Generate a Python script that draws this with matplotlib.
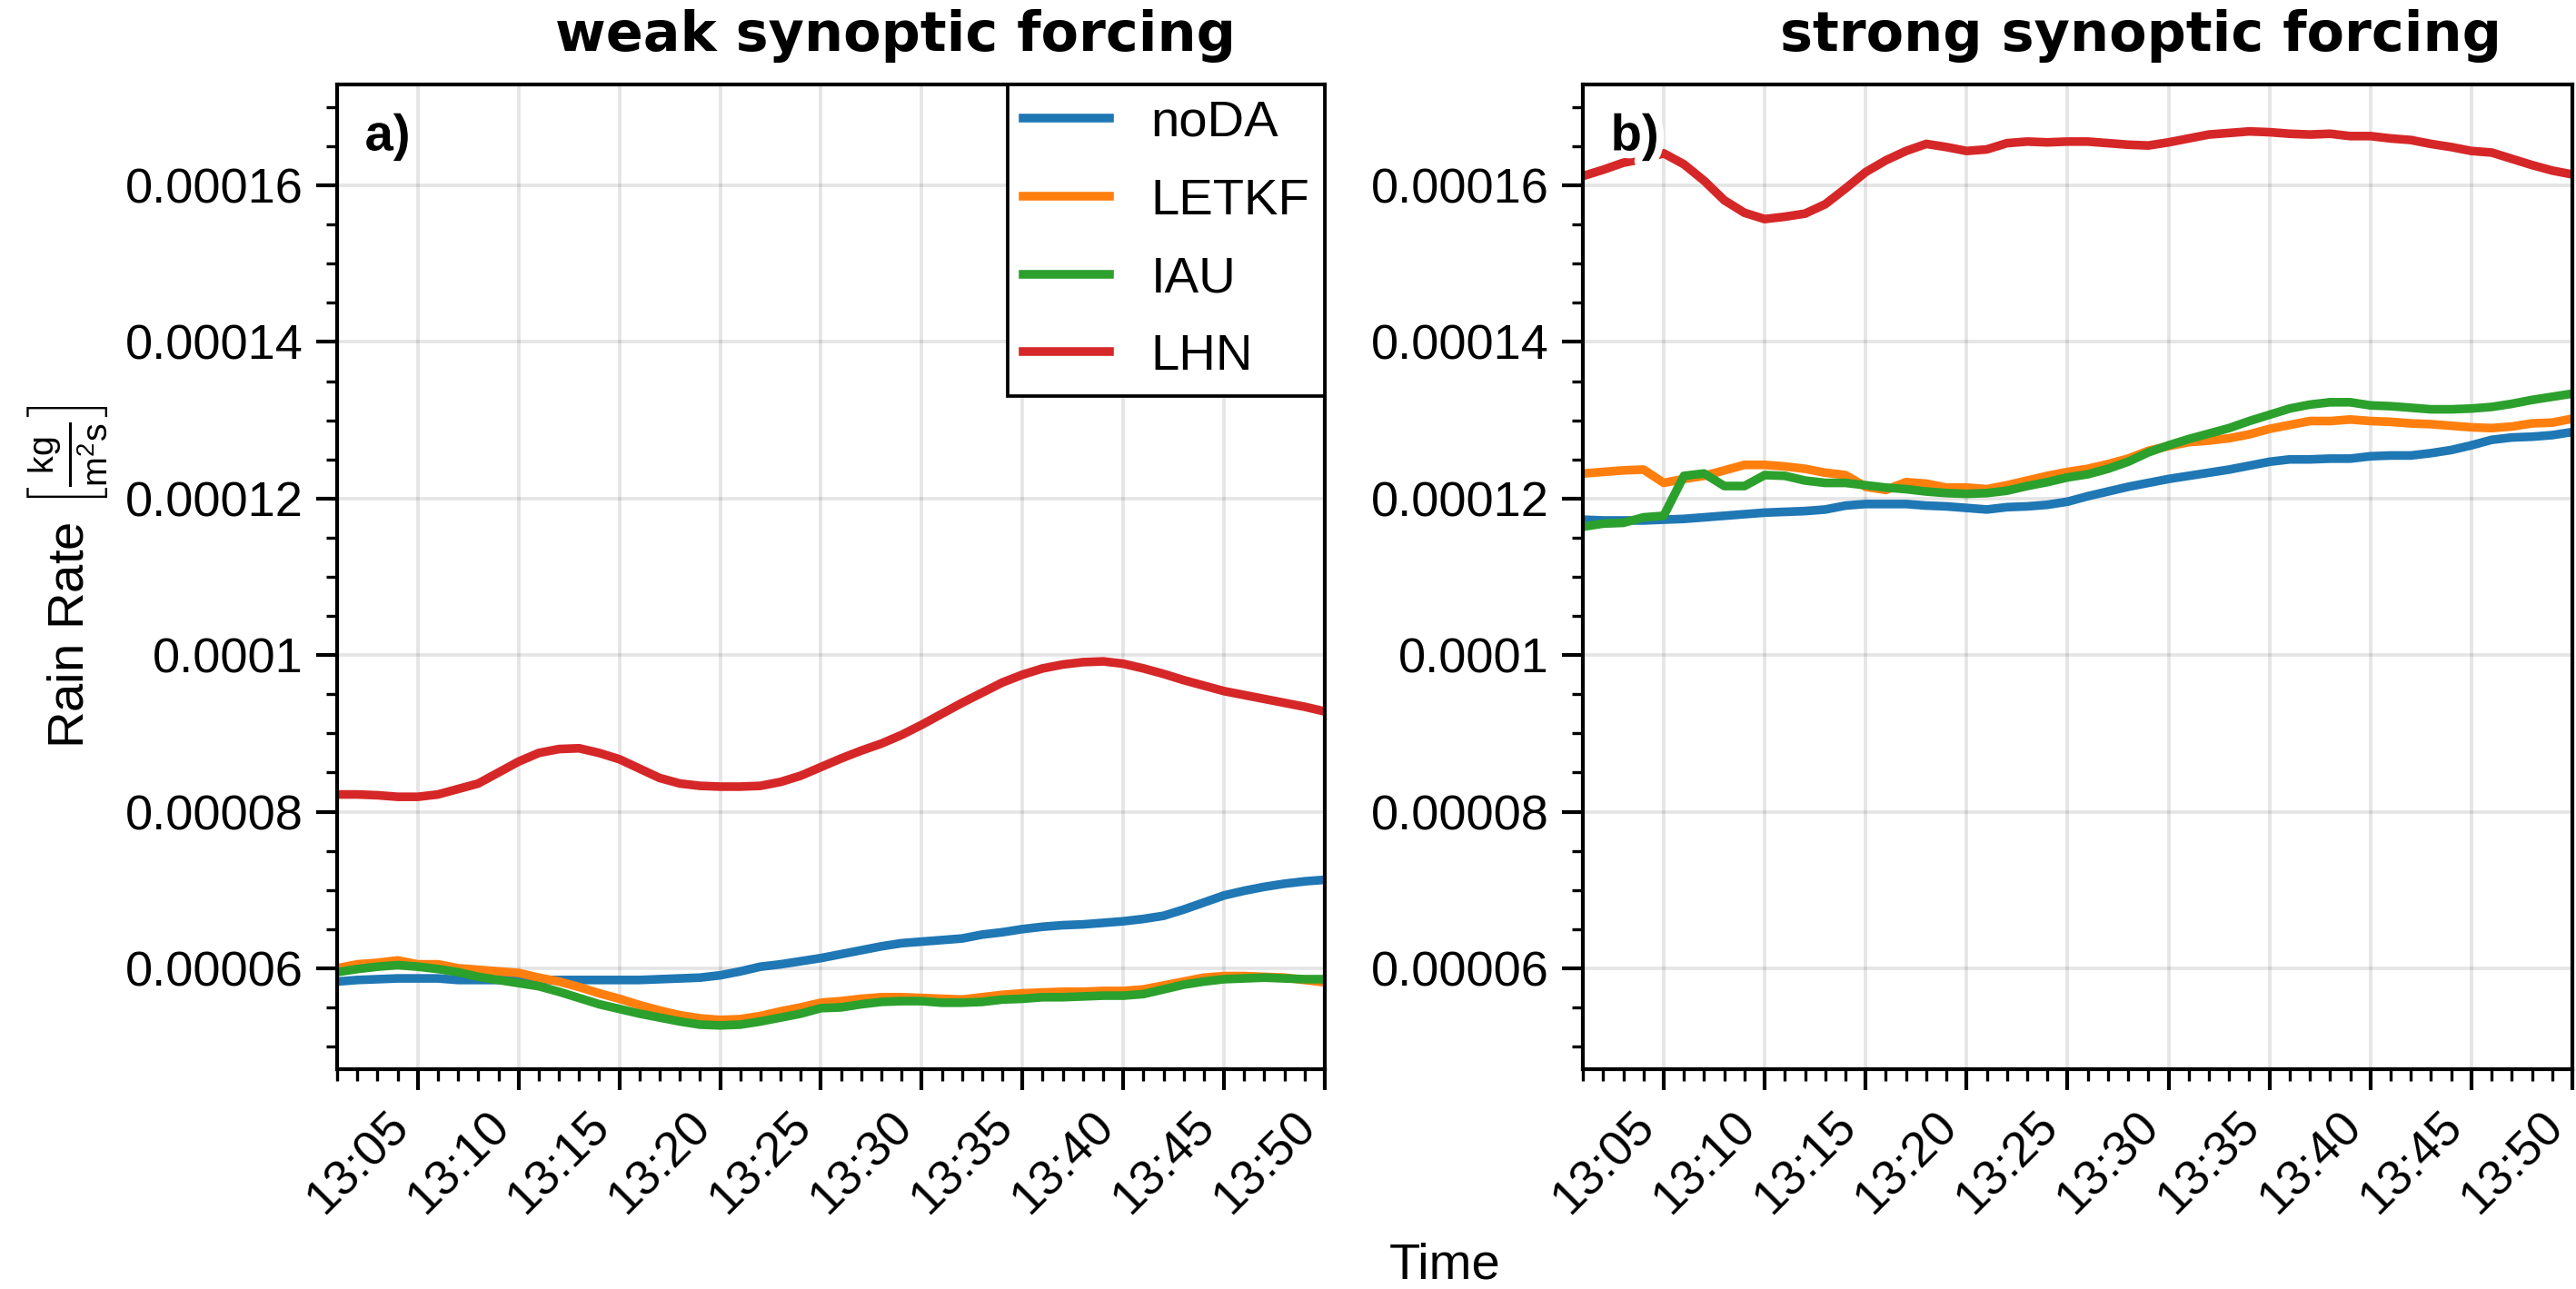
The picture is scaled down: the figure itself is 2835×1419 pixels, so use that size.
import matplotlib
matplotlib.use('Agg')
import matplotlib.pyplot as plt
import matplotlib.dates as mdates
import matplotlib.patheffects as pe
from matplotlib.ticker import MultipleLocator, FuncFormatter
import pandas as pd

# rain rate, in units of 1e-5 kg m-2 s-1, one value per minute from 13:01 to 13:50
unit = 1e-5
times = pd.date_range('2021-07-01 13:01', periods=50, freq='1min')
experiments = ['noDA', 'LETKF', 'IAU', 'LHN']
colors = ['#1f77b4', '#ff7f0e', '#2ca02c', '#d62728']

weak_noda = [5.83, 5.85, 5.86, 5.87, 5.87, 5.87, 5.85, 5.85, 5.85, 5.85,
             5.85, 5.85, 5.85, 5.85, 5.85, 5.85, 5.86, 5.87, 5.88, 5.91,
             5.96, 6.02, 6.05, 6.09, 6.13, 6.18, 6.23, 6.28, 6.32, 6.34,
             6.36, 6.38, 6.43, 6.46, 6.50, 6.53, 6.55, 6.56, 6.58, 6.60,
             6.63, 6.67, 6.75, 6.84, 6.93, 6.99, 7.04, 7.08, 7.11, 7.13]
weak_letkf = [6.00, 6.05, 6.07, 6.10, 6.05, 6.05, 6.00, 5.98, 5.96, 5.94,
              5.88, 5.83, 5.76, 5.68, 5.61, 5.53, 5.46, 5.40, 5.36, 5.34,
              5.35, 5.39, 5.45, 5.50, 5.56, 5.58, 5.61, 5.63, 5.63, 5.62,
              5.61, 5.60, 5.63, 5.66, 5.68, 5.69, 5.70, 5.70, 5.71, 5.71,
              5.73, 5.78, 5.83, 5.88, 5.90, 5.90, 5.89, 5.88, 5.85, 5.82]
weak_iau = [5.95, 5.99, 6.02, 6.04, 6.02, 5.99, 5.95, 5.89, 5.85, 5.81,
            5.77, 5.70, 5.62, 5.54, 5.48, 5.42, 5.37, 5.32, 5.28, 5.27,
            5.28, 5.32, 5.37, 5.42, 5.49, 5.50, 5.54, 5.57, 5.58, 5.58,
            5.56, 5.56, 5.57, 5.60, 5.61, 5.63, 5.63, 5.64, 5.65, 5.65,
            5.67, 5.73, 5.79, 5.83, 5.86, 5.87, 5.88, 5.87, 5.86, 5.86]
weak_lhn = [8.22, 8.22, 8.21, 8.19, 8.19, 8.22, 8.29, 8.36, 8.50, 8.64,
            8.75, 8.80, 8.81, 8.75, 8.67, 8.55, 8.43, 8.36, 8.33, 8.32,
            8.32, 8.33, 8.38, 8.46, 8.57, 8.68, 8.78, 8.87, 8.98, 9.11,
            9.25, 9.39, 9.52, 9.65, 9.75, 9.83, 9.88, 9.91, 9.92, 9.89,
            9.83, 9.76, 9.68, 9.61, 9.54, 9.49, 9.44, 9.39, 9.34, 9.28]

strong_noda = [11.73, 11.72, 11.72, 11.72, 11.73, 11.74, 11.76, 11.78, 11.80, 11.82,
               11.83, 11.84, 11.86, 11.91, 11.93, 11.93, 11.93, 11.91, 11.90, 11.88,
               11.86, 11.89, 11.90, 11.92, 11.96, 12.03, 12.09, 12.15, 12.20, 12.25,
               12.29, 12.33, 12.37, 12.42, 12.47, 12.50, 12.50, 12.51, 12.51, 12.54,
               12.55, 12.55, 12.58, 12.62, 12.68, 12.75, 12.78, 12.79, 12.81, 12.85]
strong_letkf = [12.32, 12.34, 12.36, 12.37, 12.20, 12.25, 12.29, 12.36, 12.43, 12.43,
                12.41, 12.38, 12.33, 12.30, 12.15, 12.11, 12.21, 12.19, 12.14, 12.14,
                12.12, 12.17, 12.23, 12.29, 12.34, 12.38, 12.44, 12.51, 12.61, 12.67,
                12.72, 12.74, 12.77, 12.82, 12.89, 12.94, 12.99, 12.99, 13.01, 12.99,
                12.98, 12.96, 12.95, 12.93, 12.91, 12.90, 12.92, 12.96, 12.97, 13.02]
strong_iau = [11.64, 11.68, 11.69, 11.76, 11.78, 12.29, 12.32, 12.16, 12.16, 12.30,
              12.29, 12.23, 12.20, 12.20, 12.17, 12.14, 12.12, 12.09, 12.07, 12.06,
              12.07, 12.10, 12.16, 12.21, 12.27, 12.31, 12.38, 12.47, 12.59, 12.68,
              12.76, 12.83, 12.90, 12.99, 13.07, 13.15, 13.20, 13.23, 13.23, 13.19,
              13.18, 13.16, 13.14, 13.14, 13.15, 13.17, 13.21, 13.26, 13.30, 13.34]
strong_lhn = [16.12, 16.20, 16.29, 16.34, 16.41, 16.27, 16.06, 15.81, 15.65, 15.57,
              15.60, 15.64, 15.76, 15.96, 16.17, 16.32, 16.44, 16.53, 16.49, 16.44,
              16.46, 16.54, 16.56, 16.55, 16.56, 16.56, 16.54, 16.52, 16.51, 16.55,
              16.60, 16.65, 16.67, 16.69, 16.68, 16.66, 16.65, 16.66, 16.63, 16.63,
              16.60, 16.58, 16.53, 16.49, 16.44, 16.42, 16.34, 16.26, 16.19, 16.14]

panels = [
    ('weak synoptic forcing', 'a)', [weak_noda, weak_letkf, weak_iau, weak_lhn]),
    ('strong synoptic forcing', 'b)', [strong_noda, strong_letkf, strong_iau, strong_lhn]),
]

fs = 13.5
tick_fs = 13
plt.rcParams['font.family'] = ['Liberation Sans', 'DejaVu Sans']
plt.rcParams['font.size'] = fs
plt.rcParams['mathtext.fontset'] = 'custom'
plt.rcParams['mathtext.rm'] = 'Liberation Sans'
plt.rcParams['mathtext.it'] = 'Liberation Sans:italic'

fig = plt.figure(figsize=(9.45, 4.73), dpi=300)
bottom, height = 0.1705, 0.764
axes = [fig.add_axes([0.1309, bottom, 0.3834, height]),
        fig.add_axes([0.6145, bottom, 0.3841, height])]
title_x = [0.3476, 0.8310]

for ax, tx, (title, abc, series) in zip(axes, title_x, panels):
    for name, color, vals in zip(experiments, colors, series):
        ax.plot(times, [v * unit for v in vals], color=color, lw=2.3, label=name)

    ax.set_xlim(times[0], times[-1])
    ax.set_ylim(4.71e-5, 1.729e-4)

    ax.xaxis.set_major_locator(mdates.MinuteLocator(byminute=range(0, 60, 5)))
    ax.xaxis.set_minor_locator(mdates.MinuteLocator())
    ax.xaxis.set_major_formatter(mdates.DateFormatter('%H:%M'))
    ax.yaxis.set_major_locator(MultipleLocator(2e-5))
    ax.yaxis.set_minor_locator(MultipleLocator(5e-6))
    ax.yaxis.set_major_formatter(FuncFormatter(lambda v, pos: f'{v:.5f}'.rstrip('0').rstrip('.')))

    ax.tick_params(which='major', direction='out', length=5.5, width=1.0, labelsize=tick_fs)
    ax.tick_params(which='minor', direction='out', length=3.0, width=0.8)
    for lab in ax.get_xticklabels():
        lab.set_rotation(45)
        lab.set_ha('right')

    ax.grid(True, which='major', color='black', alpha=0.1, lw=0.9)
    for sp in ax.spines.values():
        sp.set_linewidth(1.0)

    fig.text(tx, 0.972, title, ha='center', va='center', fontfamily='DejaVu Sans',
             fontweight='bold', fontsize=14.5)
    ax.text(0.028, 0.97, abc, transform=ax.transAxes, ha='left', va='top',
            fontweight='bold', fontsize=fs, zorder=5,
            path_effects=[pe.withStroke(linewidth=4, foreground='white')])

axes[0].set_ylabel(r'Rain Rate $\left[\frac{\mathrm{kg}}{\mathrm{m^2s}}\right]$', labelpad=4)
leg = axes[0].legend(loc='upper right', borderaxespad=0, fancybox=False, framealpha=1,
                     edgecolor='black', handlelength=1.7, labelspacing=0.6,
                     borderpad=0.3, fontsize=fs)
leg.get_frame().set_linewidth(0.9)

fig.text(0.561, 0.018, 'Time', ha='center', va='center', fontsize=fs)

fig.savefig('out.png', dpi=300)
